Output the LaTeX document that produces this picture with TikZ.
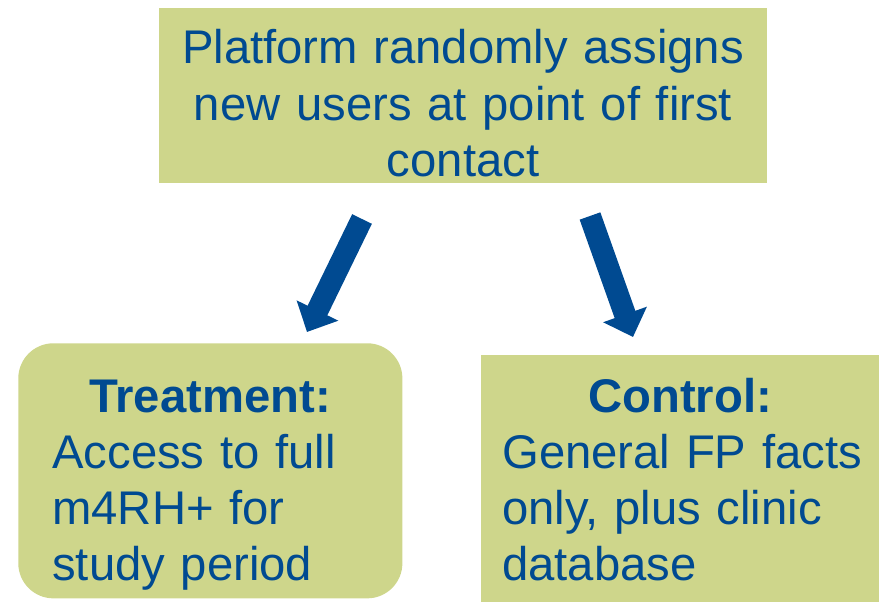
\documentclass[tikz,border=0pt]{standalone}
\usepackage{fontspec}
\setmainfont{Liberation Sans}
\usetikzlibrary{arrows.meta}
\definecolor{boxgreen}{RGB}{206,214,139}
\definecolor{textblue}{RGB}{0,74,145}

\begin{document}
\begin{tikzpicture}[x=0.025cm, y=-0.025cm,
  box/.style={fill=boxgreen, draw=none, inner sep=0pt, anchor=north west},
  txt/.style={text=textblue, inner sep=0pt, font=\fontsize{33.6}{40}\selectfont},
  title/.style={txt, font=\fontsize{33.6}{40}\selectfont\bfseries, anchor=base},
  body/.style={txt, text width=9.5cm, align=left, anchor=base west},
  flow/.style={draw=textblue, line width=15.6pt, -{Triangle[width=32pt, length=17pt]}}]

\useasboundingbox (0,0) rectangle (879,602);

\node[box, minimum width=15.2cm, minimum height=4.375cm] (assign) at (159,8) {};
\node[txt, text width=15.2cm, align=center, anchor=base] (assignT) at (463,64)
  {Platform randomly assigns\\ new users at point of first\\ contact};

\node[box, rounded corners=25pt, minimum width=9.6cm, minimum height=6.375cm] (treat) at (18,343) {};
\node[title] (treatT) at (210,412) {Treatment:};
\node[body] (treatB) at (52,468) {Access to full\\ m4RH+ for\\ study period};

\node[box, minimum width=9.95cm, minimum height=6.175cm] (ctrl) at (481,355) {};
\node[title] (ctrlT) at (680,412) {Control:};
\node[body] (ctrlB) at (502,468) {General FP facts\\ only, plus clinic\\ database};

\coordinate (treatIn) at (362,219);
\coordinate (treatTip) at (307,332);
\coordinate (ctrlIn) at (590,216);
\coordinate (ctrlTip) at (633,337);

\draw[flow] (treatIn) -- (treatTip);
\draw[flow] (ctrlIn) -- (ctrlTip);

\end{tikzpicture}
\end{document}
